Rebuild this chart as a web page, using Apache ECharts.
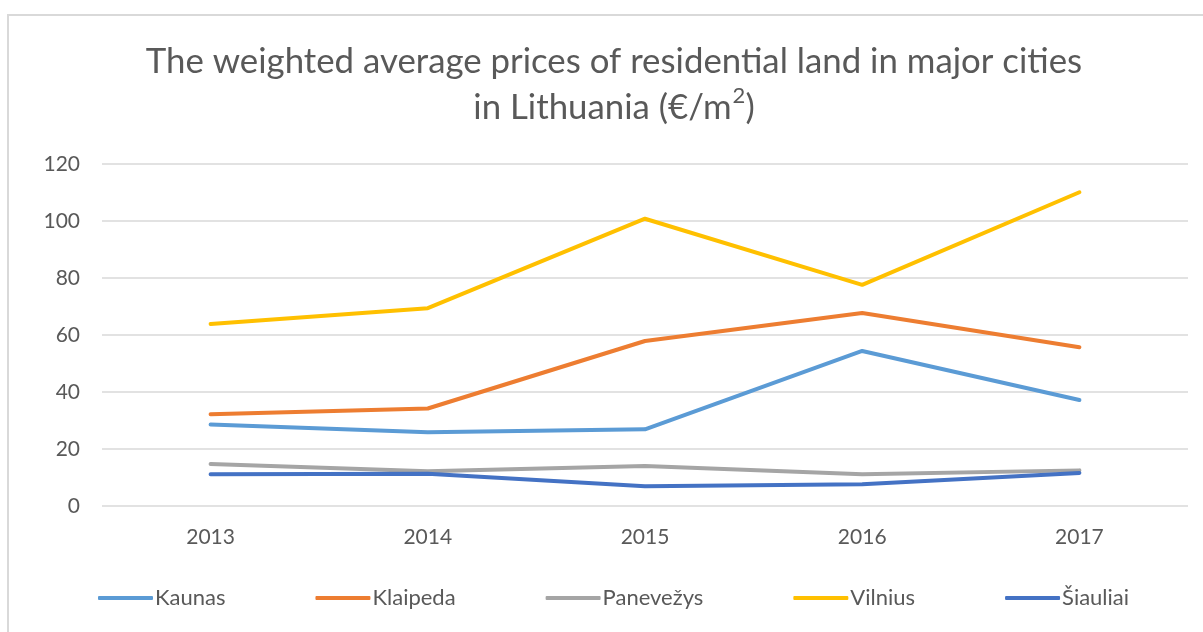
<!DOCTYPE html>
<html>
<head>
<meta charset="utf-8">
<script src="https://cdn.jsdelivr.net/npm/echarts@6/dist/echarts.min.js"></script>
<style>
html,body{margin:0;padding:0;background:#fff;}
#frame{position:absolute;left:7px;top:14px;width:1196px;height:618px;border-left:2px solid #d9d9d9;border-top:2px solid #d9d9d9;box-sizing:border-box;}
#chart{position:absolute;left:0;top:0;width:1203px;height:632px;}
</style>
</head>
<body>
<div id="frame"></div>
<div id="chart"></div>
<script>
const years = ['2013', '2014', '2015', '2016', '2017'];
const kaunas = [28.6, 25.9, 26.9, 54.4, 37.2];
const klaipeda = [32.2, 34.2, 57.9, 67.7, 55.7];
const panevezys = [14.7, 12.2, 14.0, 11.1, 12.5];
const vilnius = [63.9, 69.4, 100.8, 77.6, 110.1];
const siauliai = [11.1, 11.3, 6.9, 7.6, 11.6];
const yTicks = [0, 20, 40, 60, 80, 100, 120];

const seriesDefs = [
  { name: 'Kaunas', data: kaunas, color: '#5B9BD5' },
  { name: 'Klaipeda', data: klaipeda, color: '#ED7D31' },
  { name: 'Panevežys', data: panevezys, color: '#A5A5A5' },
  { name: 'Vilnius', data: vilnius, color: '#FFC000' },
  { name: 'Šiauliai', data: siauliai, color: '#4472C4' }
];

const chart = echarts.init(document.getElementById('chart'), null, { renderer: 'canvas' });
const font = 'Lato, "Open Sans", sans-serif';
chart.setOption({
  backgroundColor: 'transparent',
  animation: false,
  title: {
    text: 'The weighted average prices of residential land in major cities\nin Lithuania (€/m{sup|2})',
    left: 609,
    textAlign: 'center',
    top: 34,
    textStyle: {
      fontFamily: font,
      fontSize: 34.8,
      fontWeight: 'normal',
      color: '#595959',
      lineHeight: 46,
      rich: {
        sup: { fontFamily: font, fontSize: 22, color: '#595959', verticalAlign: 'top', padding: [0, 0, 16, 1] }
      }
    }
  },
  grid: { left: 102, right: 15, top: 164, bottom: 126, containLabel: false },
  legend: {
    bottom: 18,
    left: 93,
    itemGap: 90,
    itemWidth: 55,
    itemHeight: 4,
    icon: 'roundRect',
    textStyle: { fontFamily: font, fontSize: 22, color: '#595959', padding: [0, 0, 0, -3] },
    data: seriesDefs.map(s => s.name)
  },
  xAxis: {
    type: 'category',
    data: years,
    boundaryGap: true,
    axisLine: { show: false },
    axisTick: { show: false },
    axisLabel: { fontFamily: font, fontSize: 21, color: '#595959', margin: 21 }
  },
  yAxis: {
    type: 'value',
    min: 0,
    max: 120,
    interval: 20,
    axisLine: { show: false },
    axisTick: { show: false },
    axisLabel: {
      fontFamily: font, fontSize: 21, color: '#595959', margin: 22,
      formatter: v => (yTicks.indexOf(v) >= 0 ? String(v) : '')
    },
    splitLine: { lineStyle: { color: '#d9d9d9', width: 1.5 } }
  },
  series: seriesDefs.map(s => ({
    name: s.name,
    type: 'line',
    data: s.data,
    symbol: 'none',
    smooth: false,
    color: s.color,
    lineStyle: { color: s.color, width: 4, cap: 'round', join: 'round' },
    itemStyle: { color: s.color }
  }))
});
</script>
</body>
</html>
